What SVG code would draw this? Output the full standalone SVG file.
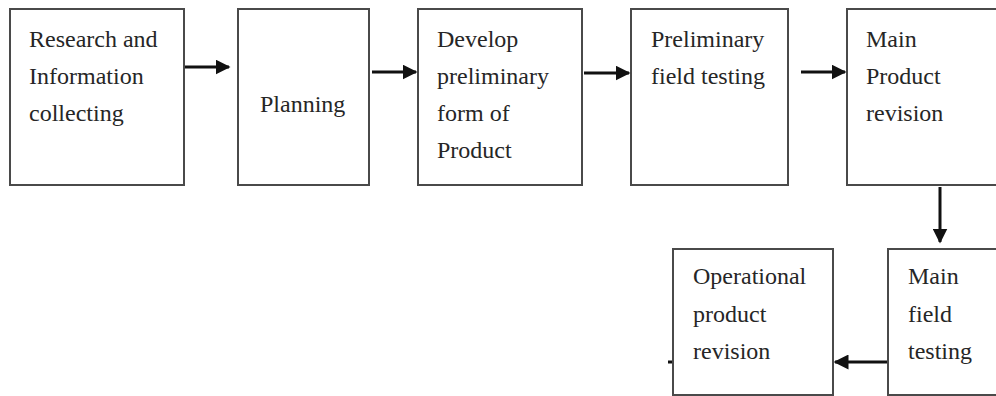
<svg xmlns="http://www.w3.org/2000/svg" width="996" height="396" viewBox="0 0 996 396">
<style>
.box{fill:#fff;stroke:#4a4a4a;stroke-width:2}
.t{font-family:"Liberation Serif","Times New Roman",serif;font-size:24px;fill:#262626}
.c{stroke:#111;stroke-width:3;fill:none}
</style>
<defs>
<marker id="ah" markerWidth="5" markerHeight="5" refX="4.5" refY="2.5" orient="auto" markerUnits="strokeWidth">
<path d="M0,0 L5,2.5 L0,5 Z" fill="#111"/>
</marker>
</defs>
<rect width="996" height="396" fill="#fff"/>
<g id="n1"><rect class="box" x="10" y="9" width="174" height="176"/>
<text class="t" x="29" y="47">Research and</text><text class="t" x="29" y="84">Information</text><text class="t" x="29" y="121">collecting</text></g>
<g id="n2"><rect class="box" x="238" y="9" width="131" height="176"/>
<text class="t" x="260" y="112">Planning</text></g>
<g id="n3"><rect class="box" x="418" y="9" width="164" height="176"/>
<text class="t" x="437" y="47">Develop</text><text class="t" x="437" y="84">preliminary</text><text class="t" x="437" y="121">form of</text><text class="t" x="437" y="158">Product</text></g>
<g id="n4"><rect class="box" x="631" y="9" width="157" height="176"/>
<text class="t" x="651" y="47">Preliminary</text><text class="t" x="651" y="84">field testing</text></g>
<g id="n5"><rect class="box" x="847" y="9" width="160" height="176"/>
<text class="t" x="866" y="47">Main</text><text class="t" x="866" y="84">Product</text><text class="t" x="866" y="121">revision</text></g>
<g id="n6"><rect class="box" x="888" y="249" width="120" height="146"/>
<text class="t" x="908" y="284">Main</text><text class="t" x="908" y="322">field</text><text class="t" x="908" y="359">testing</text></g>
<g id="n7"><rect class="box" x="673" y="249" width="160" height="146"/>
<text class="t" x="693" y="284">Operational</text><text class="t" x="693" y="322">product</text><text class="t" x="693" y="359">revision</text></g>
<g id="connectors">
<line class="c" x1="185" y1="67" x2="229" y2="67" marker-end="url(#ah)"/>
<line class="c" x1="372" y1="72" x2="416" y2="72" marker-end="url(#ah)"/>
<line class="c" x1="584" y1="73" x2="629" y2="73" marker-end="url(#ah)"/>
<line class="c" x1="801" y1="72" x2="845" y2="72" marker-end="url(#ah)"/>
<line class="c" x1="940" y1="187" x2="940" y2="242" marker-end="url(#ah)"/>
<line class="c" x1="887" y1="362" x2="835" y2="362" marker-end="url(#ah)"/>
<line class="c" x1="668" y1="362" x2="672" y2="362"/>
</g>
</svg>
